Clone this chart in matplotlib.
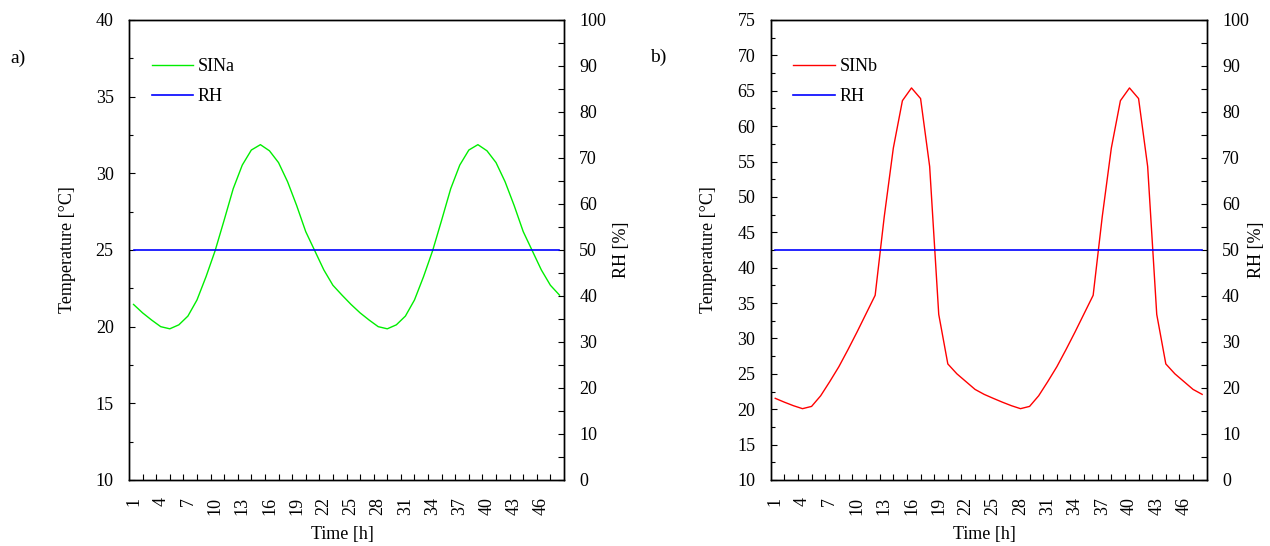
import numpy as np
import matplotlib
matplotlib.use("Agg")
import matplotlib.pyplot as plt
from matplotlib.ticker import MultipleLocator, FixedLocator

plt.rcParams["font.family"] = ["Liberation Serif", "DejaVu Serif"]
plt.rcParams["font.size"] = 13

hours = list(range(1, 49))
tick_hours = list(range(1, 47, 3))

# temperature readings [degC]
sina = [21.45, 20.90, 20.43, 20.00, 19.86, 20.12, 20.69, 21.74, 23.26, 24.95,
        26.95, 29.00, 30.54, 31.52, 31.87, 31.47, 30.70, 29.45, 27.90, 26.20,
        24.95, 23.70, 22.70, 22.06,
        21.45, 20.90, 20.43, 20.00, 19.86, 20.12, 20.69, 21.74, 23.26, 24.95,
        26.95, 29.00, 30.54, 31.52, 31.87, 31.47, 30.70, 29.45, 27.90, 26.20,
        24.95, 23.70, 22.70, 22.06]
sinb = [21.54, 21.00, 20.50, 20.08, 20.40, 21.90, 23.90, 26.00, 28.40, 30.90,
        33.50, 36.10, 47.20, 56.90, 63.60, 65.40, 63.90, 54.30, 33.40, 26.40,
        25.00, 23.90, 22.80, 22.10,
        21.54, 21.00, 20.50, 20.08, 20.40, 21.90, 23.90, 26.00, 28.40, 30.90,
        33.50, 36.10, 47.20, 56.90, 63.60, 65.40, 63.90, 54.30, 33.40, 26.40,
        25.00, 23.90, 22.80, 22.10]
rh = [50.0] * 48


def draw_panel(ax, temp, name, color, ylim, lab_x, rh_x):
    ax.plot(hours, temp, color=color, lw=1.0, label=name)
    ax.set_xlim(0.5, 48.5)
    ax.set_ylim(*ylim)
    ax.yaxis.set_major_locator(MultipleLocator(5))
    ax.yaxis.set_minor_locator(MultipleLocator(2.5))
    ax.set_xticks(tick_hours)
    ax.set_xticklabels([str(h) for h in tick_hours], rotation=90)
    ax.xaxis.set_minor_locator(FixedLocator(np.arange(2, 48, 1.5)))
    ax.tick_params(axis="x", which="major", length=0, pad=12)
    ax.tick_params(axis="x", which="minor", direction="in", length=4, width=0.8)
    ax.tick_params(axis="y", which="major", direction="in", length=4.5, width=0.8, pad=11)
    ax.tick_params(axis="y", which="minor", direction="in", length=3, width=0.8)
    ax.set_xlabel("Time [h]")
    ax.xaxis.set_label_coords(0.49, -0.10)
    ax.set_ylabel("Temperature [°C]")
    ax.yaxis.set_label_coords(lab_x, 0.5)

    ax2 = ax.twinx()
    ax2.plot(hours, rh, color="#0000ff", lw=1.2, label="RH")
    ax2.set_ylim(0, 100)
    ax2.yaxis.set_major_locator(MultipleLocator(10))
    ax2.yaxis.set_minor_locator(MultipleLocator(5))
    ax2.tick_params(axis="y", which="major", direction="in", length=4.5, width=0.8, pad=11)
    ax2.tick_params(axis="y", which="minor", direction="in", length=4.5, width=0.8)
    ax2.set_ylabel("RH [%]")
    ax2.yaxis.set_label_coords(rh_x, 0.5)

    for a in (ax, ax2):
        for s in a.spines.values():
            s.set_linewidth(1.0)

    h1, l1 = ax.get_legend_handles_labels()
    h2, l2 = ax2.get_legend_handles_labels()
    ax.legend(h1 + h2, l1 + l2, loc="upper left", bbox_to_anchor=(0.052, 0.917),
              frameon=False, borderaxespad=0, borderpad=0, handlelength=2.3,
              handletextpad=0.25, labelspacing=0.72)


fig = plt.figure(figsize=(12.7, 5.46), dpi=100)
ax_a = fig.add_axes([129 / 1270, 66 / 546, 435 / 1270, 460 / 546])
ax_b = fig.add_axes([770.7 / 1270, 66 / 546, 436 / 1270, 460 / 546])

draw_panel(ax_a, sina, "SINa", "#00ee00", (10, 40), -0.122, 1.113)
draw_panel(ax_b, sinb, "SINb", "#ff0000", (10, 75), -0.123, 1.095)

fig.text(10 / 1270, 1 - 58 / 546, "a)", ha="left", va="center", fontsize=14)
fig.text(650 / 1270, 1 - 57 / 546, "b)", ha="left", va="center", fontsize=14)

fig.savefig("out.png", dpi=100)
